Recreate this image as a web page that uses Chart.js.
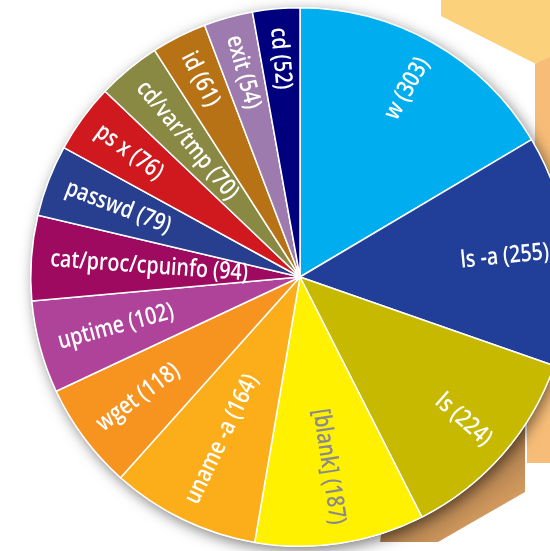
<!DOCTYPE html>
<html>
<head>
<meta charset="utf-8">
<script src="https://cdn.jsdelivr.net/npm/chart.js@4.4.1/dist/chart.umd.min.js"></script>
<style>
  html, body { margin: 0; padding: 0; background: #ffffff; overflow: hidden; }
  #wrap { position: absolute; left: 0; top: 0; width: 550px; height: 551px; overflow: hidden; }
  #c { position: absolute; left: 0; top: 0; }
</style>
</head>
<body>
<div id="wrap"><canvas id="c" width="600" height="554"></canvas></div>
<script>
const categories = ["w", "ls -a", "ls", "[blank]", "uname -a", "wget", "uptime",
  "cat/proc/cpuinfo", "passwd", "ps x", "cd/var/tmp", "id", "exit", "cd"];
const counts = [303, 255, 224, 187, 164, 118, 102, 94, 79, 76, 70, 61, 54, 52];
const sliceColors = ["#00AEEF", "#213F99", "#C7B800", "#FFF100", "#FBAD1A", "#F79420",
  "#AF4299", "#9E0A5F", "#273F8E", "#D0191F", "#8A8943", "#B87216", "#9E7BAE", "#00007F"];
const labelColors = ["#ffffff", "#ffffff", "#ffffff", "#8a8a8a", "#ffffff", "#ffffff", "#ffffff",
  "#ffffff", "#ffffff", "#ffffff", "#ffffff", "#ffffff", "#ffffff", "#ffffff"];

const LABEL_FONT = '600 24px "Open Sans", "DejaVu Sans Condensed", sans-serif';

const backdrop = {
  id: 'backdrop',
  beforeDraw(chart) {
    const ctx = chart.ctx;
    ctx.save();
    ctx.fillStyle = '#FBD17C';
    ctx.beginPath();
    ctx.moveTo(441, 0); ctx.lineTo(441, 16); ctx.lineTo(536, 64); ctx.lineTo(600, 32); ctx.lineTo(600, 0);
    ctx.closePath(); ctx.fill();
    ctx.fillStyle = '#F7BD78';
    ctx.beginPath();
    ctx.moveTo(535, 64); ctx.lineTo(600, 32); ctx.lineTo(600, 463); ctx.lineTo(527, 463); ctx.lineTo(527, 300); ctx.lineTo(535, 300);
    ctx.closePath(); ctx.fill();
    const g = ctx.createLinearGradient(440, 430, 520, 540);
    g.addColorStop(0, '#7A5A3A');
    g.addColorStop(1, '#F5B36C');
    ctx.fillStyle = g;
    ctx.beginPath();
    ctx.moveTo(400, 400); ctx.lineTo(525, 400); ctx.lineTo(525, 492); ctx.lineTo(438, 542); ctx.lineTo(380, 542);
    ctx.closePath(); ctx.fill();
    ctx.restore();
  }
};

const pieShadow = {
  id: 'pieShadow',
  beforeDatasetsDraw(chart) {
    const arc = chart.getDatasetMeta(0).data[0];
    if (!arc) return;
    const ctx = chart.ctx;
    ctx.save();
    ctx.shadowColor = 'rgba(0,0,0,0.5)';
    ctx.shadowBlur = 14;
    ctx.shadowOffsetX = 3;
    ctx.shadowOffsetY = 4;
    ctx.fillStyle = '#ffffff';
    ctx.beginPath();
    ctx.arc(arc.x, arc.y, arc.outerRadius + 0.5, 0, Math.PI * 2);
    ctx.fill();
    ctx.restore();
  }
};

const radialLabels = {
  id: 'radialLabels',
  afterDatasetsDraw(chart) {
    const ctx = chart.ctx;
    const meta = chart.getDatasetMeta(0);
    ctx.save();
    ctx.font = LABEL_FONT;
    ctx.textBaseline = 'middle';
    const refW = ctx.measureText('cat/proc/cpuinfo (94)').width;
    const sx = Math.min(1, 198 / refW);
    meta.data.forEach((arc, i) => {
      const mid = (arc.startAngle + arc.endAngle) / 2;
      const r = arc.outerRadius - 19;
      const text = categories[i] + ' (' + counts[i] + ')';
      ctx.save();
      ctx.translate(arc.x, arc.y);
      ctx.fillStyle = labelColors[i];
      if (Math.cos(mid) >= -0.01) {
        ctx.rotate(mid);
        ctx.scale(sx, 1);
        ctx.textAlign = 'right';
        ctx.fillText(text, r / sx, 0);
      } else {
        ctx.rotate(mid + Math.PI);
        ctx.scale(sx, 1);
        ctx.textAlign = 'left';
        ctx.fillText(text, -r / sx, 0);
      }
      ctx.restore();
    });
    ctx.restore();
  }
};

new Chart(document.getElementById('c'), {
  type: 'pie',
  data: {
    labels: categories,
    datasets: [{
      data: counts,
      backgroundColor: sliceColors,
      borderColor: '#ffffff',
      borderWidth: 1.5
    }]
  },
  options: {
    responsive: false,
    devicePixelRatio: 1,
    animation: false,
    layout: { padding: { left: 30, right: 30, top: 7, bottom: 7 } },
    plugins: {
      legend: { display: false },
      tooltip: { enabled: false },
      title: { display: false }
    }
  },
  plugins: [backdrop, pieShadow, radialLabels]
});
</script>
</body>
</html>
